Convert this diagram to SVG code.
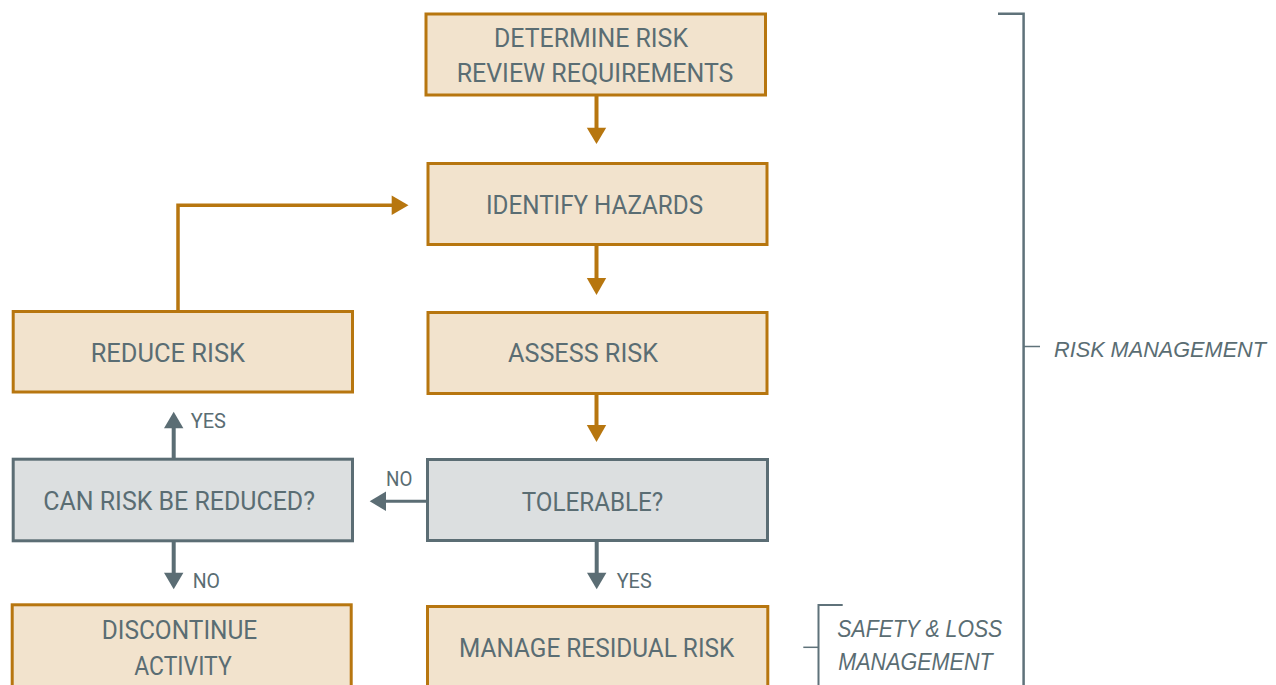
<svg xmlns="http://www.w3.org/2000/svg" width="1276" height="685" viewBox="0 0 1276 685">
  <defs>
    <style>
      .step { fill: #f2e3cd; stroke: #b7760f; stroke-width: 3; }
      .query { fill: #dcdfe0; stroke: #5b6d74; stroke-width: 3; }
      .lbl { font-family: Roboto, "Liberation Sans", sans-serif; font-size: 25px; fill: #5a6d73; }
      .small { font-family: Roboto, "Liberation Sans", sans-serif; font-size: 20px; fill: #5a6d73; }
      .note { font-family: "Liberation Sans", Arial, sans-serif; font-style: italic; font-size: 23px; fill: #5a6d73; }
      .flow { fill: none; stroke: #b7760f; }
      .decision { fill: none; stroke: #5b6d74; }
      .headO { fill: #b7760f; }
      .headG { fill: #5b6d74; }
      .brace { fill: none; stroke: #5f727a; }
    </style>
  </defs>

  <!-- process steps -->
  <g id="determine">
    <rect class="step" x="426" y="14" width="339.5" height="81"/>
    <text class="lbl" x="494" y="46.7" textLength="194" lengthAdjust="spacingAndGlyphs">DETERMINE RISK</text>
    <text class="lbl" x="456.7" y="81.7" textLength="276.7" lengthAdjust="spacingAndGlyphs">REVIEW REQUIREMENTS</text>
  </g>
  <g id="identify">
    <rect class="step" x="428" y="163.5" width="339" height="81"/>
    <text class="lbl" x="486" y="214" textLength="217" lengthAdjust="spacingAndGlyphs">IDENTIFY HAZARDS</text>
  </g>
  <g id="assess">
    <rect class="step" x="428" y="312.5" width="339" height="81"/>
    <text class="lbl" x="508" y="362" textLength="150" lengthAdjust="spacingAndGlyphs">ASSESS RISK</text>
  </g>
  <g id="reduce">
    <rect class="step" x="13.2" y="311.5" width="339.3" height="80.5"/>
    <text class="lbl" x="90.7" y="361.7" textLength="154.3" lengthAdjust="spacingAndGlyphs">REDUCE RISK</text>
  </g>
  <g id="can-reduce">
    <rect class="query" x="13.2" y="459.2" width="339.3" height="81.6"/>
    <text class="lbl" x="43.3" y="510" textLength="271.7" lengthAdjust="spacingAndGlyphs">CAN RISK BE REDUCED?</text>
  </g>
  <g id="tolerable">
    <rect class="query" x="427.5" y="459.5" width="340" height="81"/>
    <text class="lbl" x="521.7" y="510.7" textLength="141.6" lengthAdjust="spacingAndGlyphs">TOLERABLE?</text>
  </g>
  <g id="discontinue">
    <rect class="step" x="12.2" y="604.8" width="339" height="100"/>
    <text class="lbl" x="101.7" y="639.3" textLength="155.6" lengthAdjust="spacingAndGlyphs">DISCONTINUE</text>
    <text class="lbl" x="134.3" y="675" textLength="97.4" lengthAdjust="spacingAndGlyphs">ACTIVITY</text>
  </g>
  <g id="residual">
    <rect class="step" x="427.5" y="606.5" width="340.3" height="100"/>
    <text class="lbl" x="459" y="657.3" textLength="275.3" lengthAdjust="spacingAndGlyphs">MANAGE RESIDUAL RISK</text>
  </g>

  <!-- connectors -->
  <g id="connectors">
    <line class="flow" x1="596.5" y1="96" x2="596.5" y2="129" stroke-width="4"/>
    <polygon class="headO" points="586.8,127.7 606.2,127.7 596.5,144"/>
    <line class="flow" x1="596.5" y1="245" x2="596.5" y2="279" stroke-width="4"/>
    <polygon class="headO" points="586.8,278 606.2,278 596.5,295"/>
    <line class="flow" x1="596.5" y1="394" x2="596.5" y2="426" stroke-width="4"/>
    <polygon class="headO" points="586.8,425 606.2,425 596.5,442"/>
    <polyline class="flow" points="178,310 178,205.2 393,205.2" stroke-width="3.5"/>
    <polygon class="headO" points="391.7,195.5 391.7,214.9 408.5,205.2"/>

    <line class="decision" x1="426" y1="501.3" x2="385" y2="501.3" stroke-width="3"/>
    <polygon class="headG" points="386,491.6 386,511 369.7,501.3"/>
    <line class="decision" x1="173.7" y1="458" x2="173.7" y2="427" stroke-width="4"/>
    <polygon class="headG" points="164,428.3 183.4,428.3 173.7,411.7"/>
    <line class="decision" x1="173.7" y1="542" x2="173.7" y2="574" stroke-width="4"/>
    <polygon class="headG" points="164,572.7 183.4,572.7 173.7,589.3"/>
    <line class="decision" x1="596.7" y1="542" x2="596.7" y2="574" stroke-width="4"/>
    <polygon class="headG" points="587,572.7 606.4,572.7 596.7,589.3"/>

    <text class="small" x="190.7" y="427.7" textLength="35.3" lengthAdjust="spacingAndGlyphs">YES</text>
    <text class="small" x="192.7" y="588.3" textLength="27.3" lengthAdjust="spacingAndGlyphs">NO</text>
    <text class="small" x="386" y="486" textLength="26.3" lengthAdjust="spacingAndGlyphs">NO</text>
    <text class="small" x="616.7" y="587.7" textLength="35" lengthAdjust="spacingAndGlyphs">YES</text>
  </g>

  <!-- scope brackets -->
  <g id="risk-management">
    <polyline class="brace" points="998,13.7 1023.6,13.7 1023.6,685" stroke-width="2.5"/>
    <line class="brace" x1="1024" y1="346.5" x2="1040" y2="346.5" stroke-width="1.5"/>
    <text class="note" x="1054" y="357" font-size="22" style="font-size:22px" textLength="212" lengthAdjust="spacingAndGlyphs">RISK MANAGEMENT</text>
  </g>
  <g id="safety-loss">
    <polyline class="brace" points="842.7,605 818.5,605 818.5,685" stroke-width="2"/>
    <line class="brace" x1="803.3" y1="647.3" x2="818.5" y2="647.3" stroke-width="1.5"/>
    <text class="note" x="837.3" y="637" textLength="165" lengthAdjust="spacingAndGlyphs">SAFETY &amp; LOSS</text>
    <text class="note" x="838.3" y="670" textLength="154.3" lengthAdjust="spacingAndGlyphs">MANAGEMENT</text>
  </g>
</svg>
